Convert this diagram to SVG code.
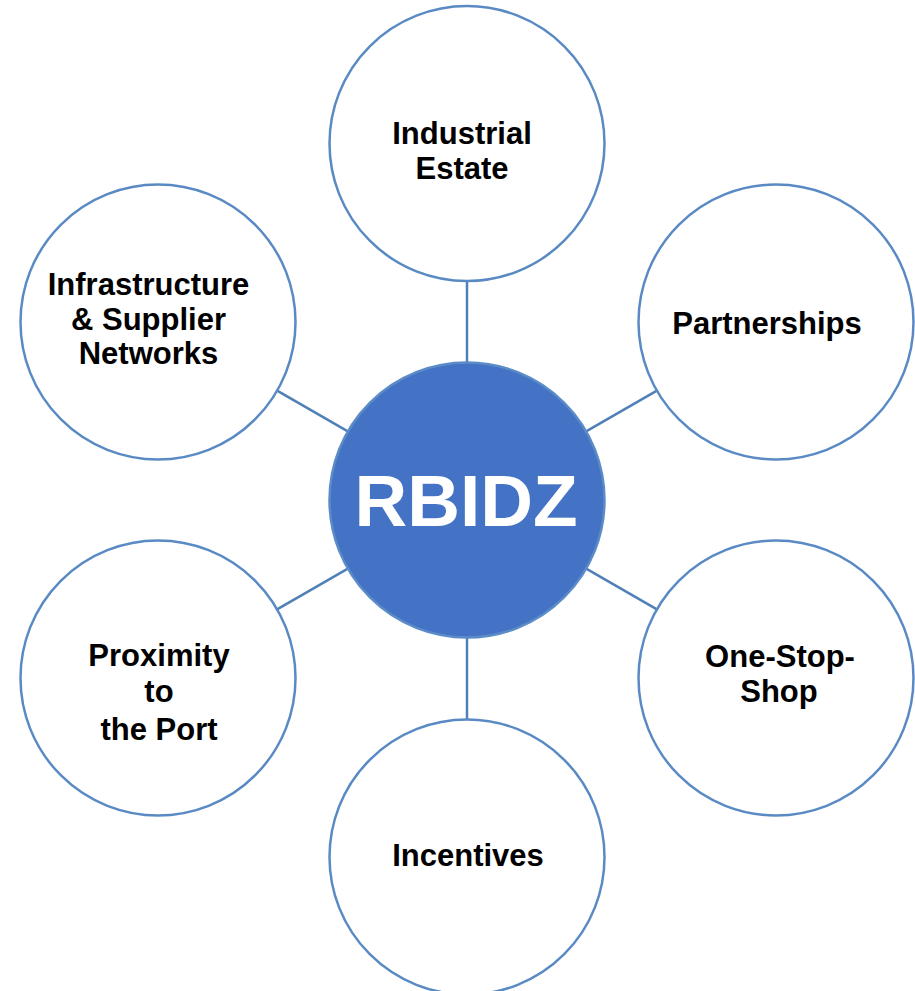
<svg xmlns="http://www.w3.org/2000/svg" width="915" height="991" viewBox="0 0 915 991">
<style>
.sat{fill:#ffffff;stroke:#5A8AC4;stroke-width:2.5}
.hub{fill:#4472C4;stroke:#5B8CC8;stroke-width:2.5}
.lbl{font-family:"Liberation Sans",Arial,sans-serif;font-weight:bold;font-size:31px;fill:#000000;text-anchor:middle}
.hubt{font-family:"Liberation Sans",Arial,sans-serif;font-weight:bold;font-size:73px;fill:#ffffff;text-anchor:middle}
.con{stroke:#4F80B8;stroke-width:2.5;fill:none}
</style>
<rect width="915" height="991" fill="#ffffff"/>
<g id="connectors">
<line class="con" x1="467" y1="281" x2="467" y2="362.5"/>
<line class="con" x1="467" y1="637.5" x2="467" y2="719"/>
<line class="con" x1="586.6" y1="431.1" x2="656.9" y2="390.6"/>
<line class="con" x1="586.6" y1="568.9" x2="656.9" y2="609.4"/>
<line class="con" x1="347.4" y1="431.1" x2="277.1" y2="390.6"/>
<line class="con" x1="347.4" y1="568.9" x2="277.1" y2="609.4"/>
</g>
<g id="industrial-estate">
<circle class="sat" cx="467" cy="143.5" r="137.5"/>
<text class="lbl" x="462" y="143.5">Industrial</text>
<text class="lbl" x="462" y="178.5">Estate</text>
</g>
<g id="partnerships">
<circle class="sat" cx="776" cy="322" r="137.5"/>
<text class="lbl" x="767" y="333.5">Partnerships</text>
</g>
<g id="one-stop-shop">
<circle class="sat" cx="776" cy="678" r="137.5"/>
<text class="lbl" x="780" y="667">One-Stop-</text>
<text class="lbl" x="779" y="702">Shop</text>
</g>
<g id="incentives">
<circle class="sat" cx="467" cy="857" r="137.5"/>
<text class="lbl" x="468" y="866">Incentives</text>
</g>
<g id="proximity">
<circle class="sat" cx="158" cy="678" r="137.5"/>
<text class="lbl" x="159" y="666">Proximity</text>
<text class="lbl" x="159" y="702">to</text>
<text class="lbl" x="159" y="740">the Port</text>
</g>
<g id="infrastructure">
<circle class="sat" cx="158" cy="322" r="137.5"/>
<text class="lbl" x="148.5" y="295">Infrastructure</text>
<text class="lbl" x="148.5" y="329.5">&amp; Supplier</text>
<text class="lbl" x="148.5" y="364">Networks</text>
</g>
<g id="rbidz">
<circle class="hub" cx="467" cy="500" r="137.5"/>
<text class="hubt" x="466" y="526">RBIDZ</text>
</g>
</svg>
